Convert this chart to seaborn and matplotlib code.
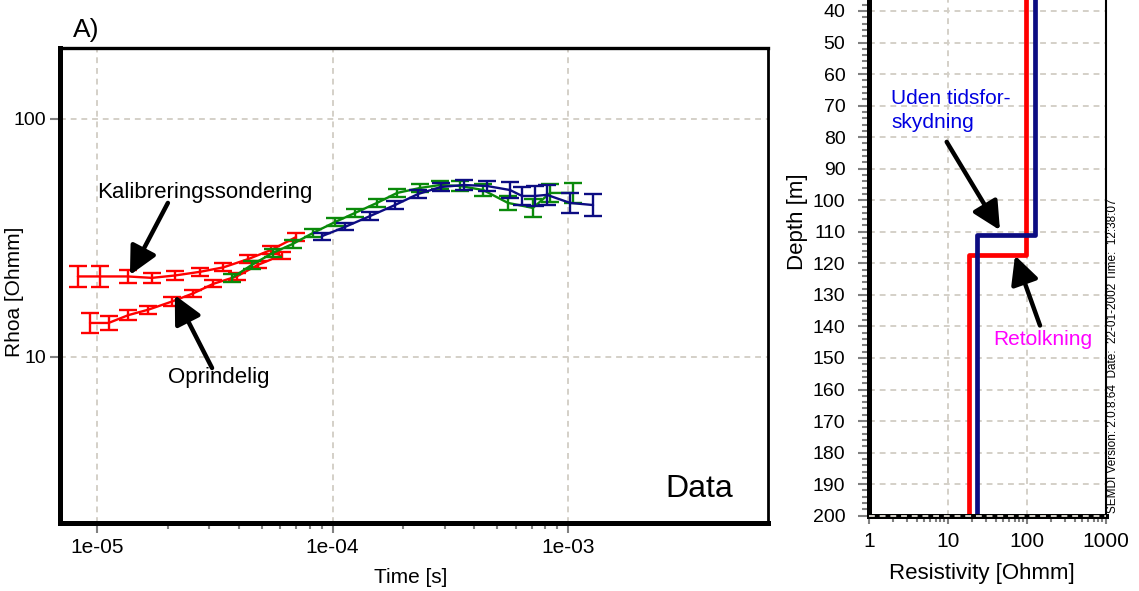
import matplotlib
matplotlib.use("Agg")
import matplotlib.pyplot as plt
import matplotlib.ticker as mticker
import numpy as np
import pandas as pd
import seaborn as sns

# ---- Apparent resistivity curves (time gate [s], rho_a [Ohmm], relative error) ----
calib_time = [8.3e-6, 1.03e-5, 1.35e-5, 1.71e-5, 2.14e-5, 2.74e-5, 3.44e-5, 4.39e-5, 5.5e-5, 7.0e-5]
calib_rhoa = [21.8, 21.8, 21.8, 21.5, 22.0, 22.8, 23.8, 25.8, 28.2, 31.9]
calib_err = [0.105, 0.105, 0.067, 0.047, 0.04, 0.04, 0.04, 0.04, 0.04, 0.04]

orig_time = [9.34e-6, 1.12e-5, 1.36e-5, 1.65e-5, 2.08e-5, 2.56e-5, 3.12e-5, 3.92e-5, 4.83e-5, 6.1e-5]
orig_rhoa = [13.9, 13.9, 15.0, 15.8, 17.1, 18.5, 20.3, 21.8, 24.4, 26.8]
orig_err = [0.10, 0.07, 0.05, 0.04, 0.04, 0.035, 0.035, 0.035, 0.035, 0.035]

green_time = [3.74e-5, 4.55e-5, 5.59e-5, 6.80e-5, 8.26e-5, 1.025e-4, 1.246e-4, 1.545e-4, 1.879e-4,
              2.351e-4, 2.86e-4, 3.48e-4, 4.36e-4, 5.56e-4, 7.09e-4, 8.39e-4, 1.05e-3]
green_rhoa = [21.5, 24.4, 27.4, 29.9, 33.2, 36.9, 40.3, 44.4, 48.9,
              51.3, 52.8, 52.3, 50.3, 44.4, 42.3, 48.9, 48.9]
green_err = [0.04, 0.04, 0.04, 0.04, 0.04, 0.04, 0.04, 0.04, 0.04,
             0.04, 0.04, 0.05, 0.06, 0.07, 0.09, 0.09, 0.10]

blue_time = [9.02e-5, 1.13e-4, 1.443e-4, 1.842e-4, 2.307e-4, 2.888e-4, 3.618e-4, 4.53e-4,
             5.67e-4, 6.38e-4, 7.24e-4, 8.14e-4, 1.02e-3, 1.277e-3]
blue_rhoa = [32.2, 35.2, 39.1, 43.5, 48.4, 51.8, 52.8, 52.3,
             50.3, 47.5, 47.5, 48.0, 44.4, 43.5]
blue_err = [0.035, 0.035, 0.04, 0.04, 0.04, 0.04, 0.05, 0.05,
            0.08, 0.09, 0.10, 0.10, 0.10, 0.11]

# ---- Layered models (layer resistivities [Ohmm], interface depth [m]) ----
max_depth = 200
retolk_res = [98, 18.6]
retolk_iface = [117.5]
uden_res = [125, 23.1]
uden_iface = [111.0]

x_ticks_time = [1e-5, 1e-4, 1e-3]
x_ticks_res = [1, 10, 100, 1000]
depth_ticks = list(range(40, 201, 10))

RED = "#ff0000"
GREEN = "#0a8a0a"
NAVY = "#0c0c82"
GRID = "#d4d0c8"
TICK = "#808080"

sns.set_theme(style="ticks")
plt.rcParams["font.family"] = ["Liberation Sans", "DejaVu Sans"]
plt.rcParams["text.color"] = "black"
plt.rcParams["axes.labelcolor"] = "black"

W, H = 1139, 591
fig = plt.figure(figsize=(W / 100, H / 100), dpi=100)
fig.patch.set_facecolor("white")

# ================= Left panel: sounding data =================
ax1 = fig.add_axes([60 / W, (H - 523) / H, 708 / W, 475 / H])
ax1.set_xscale("log")
ax1.set_yscale("log")
ax1.set_xlim(10 ** -5.157, 10 ** -2.151)
ax1.set_ylim(10 ** 0.3025, 10 ** 2.2983)

series = [
    ("Kalibreringssondering", calib_time, calib_rhoa, calib_err, RED),
    ("Oprindelig", orig_time, orig_rhoa, orig_err, RED),
    ("Uden tidsforskydning", green_time, green_rhoa, green_err, GREEN),
    ("Retolkning", blue_time, blue_rhoa, blue_err, NAVY),
]
for name, t, r, e, c in series:
    df = pd.DataFrame({"time": t, "rhoa": r})
    sns.lineplot(data=df, x="time", y="rhoa", color=c, linewidth=1.7,
                 estimator=None, sort=False, ax=ax1, legend=False)
    r = np.asarray(r)
    f = 1.0 + np.asarray(e)
    ax1.errorbar(t, r, yerr=[r - r / f, r * f - r], fmt="none", ecolor=c,
                 elinewidth=1.7, capsize=6.5, capthick=1.7)

minor_time = [m * 10.0 ** k for k in (-5, -4) for m in range(2, 10)]
ax1.xaxis.set_major_locator(mticker.FixedLocator(x_ticks_time))
ax1.xaxis.set_major_formatter(mticker.FuncFormatter(lambda v, p: f"{v:.0e}"))
ax1.xaxis.set_minor_locator(mticker.FixedLocator(minor_time))
ax1.xaxis.set_minor_formatter(mticker.NullFormatter())
ax1.yaxis.set_major_locator(mticker.FixedLocator([10, 100]))
ax1.yaxis.set_major_formatter(mticker.FuncFormatter(lambda v, p: f"{v:g}"))
ax1.yaxis.set_minor_locator(mticker.NullLocator())
ax1.grid(True, which="major", color=GRID, linestyle=(0, (3, 2.5)), linewidth=1.4)
ax1.set_axisbelow(True)
ax1.tick_params(which="major", direction="out", length=7, width=1.5, color=TICK,
                labelsize=15, labelcolor="black", pad=4)
ax1.tick_params(axis="y", which="major", labelsize=14, pad=3)
ax1.tick_params(which="minor", direction="out", length=4, width=1.5, color=TICK)

for side, lw in [("left", 3.6), ("bottom", 3.6), ("top", 2.4), ("right", 2.0)]:
    ax1.spines[side].set_color("black")
    ax1.spines[side].set_linewidth(lw)

ax1.set_xlabel("Time [s]", fontsize=15)
ax1.set_ylabel("Rhoa [Ohmm]", fontsize=15)
ax1.xaxis.set_label_coords(0.495, -0.094)
ax1.yaxis.set_label_coords(-0.0505, 0.486)

ax1.text(2.87e-5, 46.4, "Kalibreringssondering", fontsize=16, ha="center", va="baseline")
ax1.text(2.0e-5, 7.8, "Oprindelig", fontsize=16, ha="left", va="baseline")
ax1.text(0.9506, 0.054, "Data", fontsize=23, ha="right", va="baseline", transform=ax1.transAxes)

arrow_kw = dict(arrowstyle="-|>,head_length=17,head_width=8.5", mutation_scale=1,
                color="black", lw=3.2, shrinkA=0, shrinkB=0)
ax1.annotate("", xy=(1.38e-5, 22.1), xytext=(2.0e-5, 44.4), arrowprops=arrow_kw)
ax1.annotate("", xy=(2.14e-5, 18.2), xytext=(3.08e-5, 8.99), arrowprops=arrow_kw)

fig.text(73 / W, (H - 36.5) / H, "A)", fontsize=19, ha="left", va="baseline")

# ================= Right panel: layered models =================
ax2 = fig.add_axes([869 / W, (H - 515.7) / H, 237 / W, 630.9 / H])
ax2.set_xscale("log")
ax2.set_xlim(1, 1000)
ax2.set_ylim(max_depth, 0)


def staircase(res, iface):
    tops = [0.0] + list(iface)
    bots = list(iface) + [max_depth]
    xs, ys = [], []
    for rv, d0, d1 in zip(res, tops, bots):
        xs += [rv, rv]
        ys += [d0, d1]
    return pd.DataFrame({"res": xs, "depth": ys})


sns.lineplot(data=staircase(retolk_res, retolk_iface), x="res", y="depth", color=RED,
             linewidth=3.4, estimator=None, sort=False, ax=ax2, legend=False)
sns.lineplot(data=staircase(uden_res, uden_iface), x="res", y="depth", color=NAVY,
             linewidth=3.4, estimator=None, sort=False, ax=ax2, legend=False)

ax2.xaxis.set_major_locator(mticker.FixedLocator(x_ticks_res))
ax2.xaxis.set_major_formatter(mticker.FuncFormatter(lambda v, p: f"{v:g}"))
ax2.xaxis.set_minor_locator(mticker.LogLocator(base=10, subs=np.arange(2, 10)))
ax2.xaxis.set_minor_formatter(mticker.NullFormatter())
ax2.yaxis.set_major_locator(mticker.FixedLocator(depth_ticks))
ax2.yaxis.set_major_formatter(mticker.FuncFormatter(lambda v, p: f"{v:g}"))
ax2.yaxis.set_minor_locator(mticker.MultipleLocator(2))
ax2.grid(True, which="major", color=GRID, linestyle=(0, (3, 2.5)), linewidth=1.4)
ax2.set_axisbelow(True)
ax2.tick_params(axis="y", which="major", direction="out", length=8, width=1.5, color=TICK,
                labelsize=14, labelcolor="black", pad=9)
ax2.tick_params(axis="y", which="minor", direction="out", length=5, width=1.5, color=TICK)
ax2.tick_params(axis="x", which="major", direction="out", length=6, width=1.5, color=TICK,
                labelsize=15, labelcolor="black", pad=6)
ax2.tick_params(axis="x", which="minor", direction="out", length=4, width=1.5, color=TICK)

ax2.spines["left"].set_color("black")
ax2.spines["left"].set_linewidth(3.6)
ax2.spines["bottom"].set_color("black")
ax2.spines["bottom"].set_linewidth(3.6)
ax2.spines["right"].set_color("black")
ax2.spines["right"].set_linewidth(1.5)
ax2.spines["right"].set_linestyle((0, (1, 1)))
ax2.spines["top"].set_visible(False)
ax2.axhline(max_depth, color=GRID, linestyle=(0, (3, 2.5)), linewidth=1.4, zorder=3, clip_on=False)

ax2.set_xlabel("Resistivity [Ohmm]", fontsize=16)
ax2.set_ylabel("Depth [m]", fontsize=16)
ax2.xaxis.set_label_coords(0.477, -0.075)
ax2.yaxis.set_label_coords(-0.257, 0.4657)

ax2.text(1.9, 69.5, "Uden tidsfor-", fontsize=15, color="#0000e0", ha="left", va="baseline")
ax2.text(1.9, 77.2, "skydning", fontsize=15, color="#0000e0", ha="left", va="baseline")
ax2.text(37.4, 146.0, "Retolkning", fontsize=15, color="#ff00ff", ha="left", va="baseline")
ax2.annotate("", xy=(45.5, 109.5), xytext=(9.63, 81.5), arrowprops=arrow_kw)
ax2.annotate("", xy=(70.5, 117.5), xytext=(146, 139.7), arrowprops=arrow_kw)

fig.text(1113 / W, 78 / H, "SEMDI Version: 2.0.8.64  Date:  22-01-2002 Time:  12:38:07",
         fontsize=8.5, rotation=90, ha="center", va="bottom")

fig.savefig("out.png", dpi=100, facecolor="white")
